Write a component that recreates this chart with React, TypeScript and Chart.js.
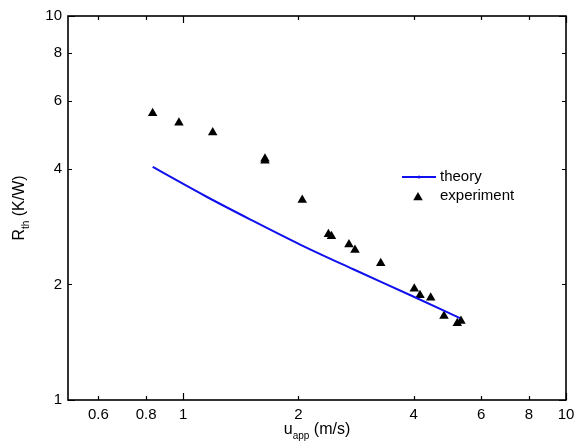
import React, { useEffect, useRef } from "react";
import { Chart, registerables } from "chart.js";

Chart.register(...registerables);

// ---- data ----
const theoryX = [0.832, 1.151, 1.494, 2.02, 2.782, 3.99, 5.284];
const theoryY = [4.045, 3.383, 2.955, 2.54, 2.19, 1.86, 1.633];

const expX = [0.832, 0.9745, 1.194, 1.635, 1.635, 2.046, 2.395, 2.439, 2.71, 2.81, 3.281, 4.015, 4.155, 4.431, 4.8, 5.2, 5.316];
const expY = [5.58, 5.27, 4.97, 4.25, 4.2, 3.32, 2.70, 2.67, 2.54, 2.46, 2.27, 1.95, 1.875, 1.845, 1.655, 1.585, 1.607];

const xTickValues = [0.6, 0.8, 1, 2, 4, 6, 8, 10];
const yTickValues = [1, 2, 4, 6, 8, 10];
const majorTicks = [1, 10];

const seriesNames = ["theory", "experiment"];
const xTitleMain = "u";
const xTitleSub = "app";
const xTitleRest = " (m/s)";
const yTitleMain = "R";
const yTitleSub = "th";
const yTitleRest = " (K/W)";

const FONT = '"Liberation Sans", Arial, Helvetica, sans-serif';
const BLUE = "#1010ee";

const framePlugin = {
  id: "frame",
  afterDraw(chart: any) {
    const { ctx, chartArea } = chart;
    const { left, right, top, bottom } = chartArea;
    const xs = chart.scales.x;
    const ys = chart.scales.y;
    ctx.save();
    ctx.strokeStyle = "#000";
    ctx.lineWidth = 1.6;
    ctx.strokeRect(left, top, right - left, bottom - top);
    ctx.lineWidth = 1.2;
    ctx.beginPath();
    xTickValues.forEach((v) => {
      const px = Math.round(xs.getPixelForValue(v)) + 0.5;
      const len = majorTicks.includes(v) ? 7 : 4;
      ctx.moveTo(px, bottom);
      ctx.lineTo(px, bottom - len);
      ctx.moveTo(px, top);
      ctx.lineTo(px, top + len);
    });
    yTickValues.forEach((v) => {
      const py = Math.round(ys.getPixelForValue(v)) + 0.5;
      const len = majorTicks.includes(v) ? 7 : 4;
      ctx.moveTo(left, py);
      ctx.lineTo(left + len, py);
      ctx.moveTo(right, py);
      ctx.lineTo(right - len, py);
    });
    ctx.stroke();

    // axis titles with subscripts
    ctx.fillStyle = "#000";
    ctx.textBaseline = "alphabetic";
    const mainFont = `16px ${FONT}`;
    const subFont = `10px ${FONT}`;
    const measure = (t: string, f: string) => {
      ctx.font = f;
      return ctx.measureText(t).width;
    };
    const drawTitle = (main: string, sub: string, rest: string) => {
      const w = measure(main, mainFont) + measure(sub, subFont) + measure(rest, mainFont);
      let x = -w / 2;
      ctx.font = mainFont;
      ctx.textAlign = "left";
      ctx.fillText(main, x, 0);
      x += measure(main, mainFont);
      ctx.font = subFont;
      ctx.fillText(sub, x, 5);
      x += measure(sub, subFont);
      ctx.font = mainFont;
      ctx.fillText(rest, x, 0);
    };
    ctx.save();
    ctx.translate((left + right) / 2, bottom + 34);
    drawTitle(xTitleMain, xTitleSub, xTitleRest);
    ctx.restore();
    ctx.save();
    ctx.translate(left - 44, (top + bottom) / 2);
    ctx.rotate(-Math.PI / 2);
    drawTitle(yTitleMain, yTitleSub, yTitleRest);
    ctx.restore();

    // legend
    const lx = left + 334;
    const ly = top + 161;
    ctx.strokeStyle = BLUE;
    ctx.lineWidth = 2;
    ctx.beginPath();
    ctx.moveTo(lx, ly);
    ctx.lineTo(lx + 34, ly);
    ctx.stroke();
    ctx.fillStyle = BLUE;
    ctx.beginPath();
    ctx.arc(lx + 17, ly, 1.5, 0, Math.PI * 2);
    ctx.fill();
    ctx.fillStyle = "#000";
    ctx.font = `15px ${FONT}`;
    ctx.textBaseline = "middle";
    ctx.textAlign = "left";
    ctx.fillText(seriesNames[0], lx + 38, ly);
    const ty = ly + 19;
    const r = 5.5;
    const cx = lx + 16;
    const cy = ty + 1.5;
    ctx.beginPath();
    ctx.moveTo(cx, cy - r);
    ctx.lineTo(cx + r * 0.866, cy + r * 0.5);
    ctx.lineTo(cx - r * 0.866, cy + r * 0.5);
    ctx.closePath();
    ctx.fill();
    ctx.fillText(seriesNames[1], lx + 38, ty);
    ctx.restore();
  },
};

export default function App() {
  const ref = useRef<HTMLCanvasElement | null>(null);
  useEffect(() => {
    if (!ref.current) return;
    const chart = new Chart(ref.current, {
      type: "scatter",
      data: {
        datasets: [
          {
            label: seriesNames[0],
            data: theoryX.map((x, i) => ({ x, y: theoryY[i] })),
            showLine: true,
            borderColor: BLUE,
            backgroundColor: BLUE,
            borderWidth: 2,
            pointRadius: 0,
            cubicInterpolationMode: "monotone",
          },
          {
            label: seriesNames[1],
            data: expX.map((x, i) => ({ x, y: expY[i] })),
            showLine: false,
            pointStyle: "triangle",
            pointRadius: 5.5,
            borderWidth: 0,
            backgroundColor: "#000",
            borderColor: "#000",
          },
        ],
      },
      options: {
        responsive: false,
        animation: false,
        layout: { padding: { left: 0, top: 16, right: 19, bottom: 0 } },
        plugins: { legend: { display: false }, tooltip: { enabled: false } },
        scales: {
          x: {
            type: "logarithmic",
            min: 0.5,
            max: 10,
            grid: { display: false, drawTicks: false },
            border: { display: false },
            ticks: {
              color: "#000",
              font: { family: FONT, size: 15 },
              padding: 6,
              autoSkip: false,
              maxRotation: 0,
              callback: (v: any) => String(v),
            },
            afterBuildTicks: (s: any) => {
              s.ticks = xTickValues.map((v) => ({ value: v }));
            },
            afterFit: (s: any) => {
              s.height = 42;
            },
          },
          y: {
            type: "logarithmic",
            min: 1,
            max: 10,
            grid: { display: false, drawTicks: false },
            border: { display: false },
            ticks: {
              color: "#000",
              font: { family: FONT, size: 15 },
              padding: 6,
              autoSkip: false,
              callback: (v: any) => String(v),
            },
            afterBuildTicks: (s: any) => {
              s.ticks = yTickValues.map((v) => ({ value: v }));
            },
            afterFit: (s: any) => {
              s.width = 68;
            },
          },
        },
      } as any,
      plugins: [framePlugin],
    });
    return () => chart.destroy();
  }, []);
  return (
    <div style={{ position: "fixed", left: 0, top: 0, width: 585, height: 442, background: "#fff" }}>
      <canvas ref={ref} width={585} height={442} />
    </div>
  );
}
